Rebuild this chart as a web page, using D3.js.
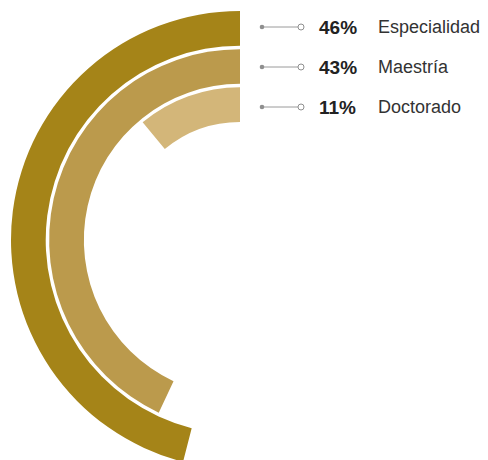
<!DOCTYPE html>
<html><head><meta charset="utf-8">
<script src="https://cdn.jsdelivr.net/npm/d3@7"></script>
<style>html,body{margin:0;padding:0;background:#fff;}svg{display:block;}</style>
</head><body>
<svg id="chart" width="488" height="460"></svg>
<script>
const categories = ["Especialidad", "Maestría", "Doctorado"];
const values = [46, 43, 11];
const colors = ["#a58418", "#bb9a4c", "#d3b679"];

const svg = d3.select("#chart");
const cx = 240, cy = 240;
const g = svg.append("g").attr("transform", `translate(${cx},${cy})`);

const outerR = 229, innerR = 118;
const angle = d3.scaleLinear().domain([0, 100]).range([0, -2 * Math.PI]);
const depth = d3.scaleBand().domain(categories).range([0, outerR - innerR]).paddingInner(0.09);

const data = categories.map((c, i) => ({cat: c, val: values[i], color: colors[i]}));

const arc = d3.arc()
  .outerRadius(d => outerR - depth(d.cat))
  .innerRadius(d => outerR - depth(d.cat) - depth.bandwidth())
  .startAngle(0)
  .endAngle(d => angle(d.val));

g.selectAll("path.bar").data(data).join("path")
  .attr("class", "bar")
  .attr("fill", d => d.color)
  .attr("d", arc);

// legend
const ly = d3.scalePoint().domain(categories).range([27, 107]);
const rows = svg.append("g").selectAll("g").data(data).join("g")
  .attr("transform", d => `translate(0,${ly(d.cat)})`);
rows.append("line").attr("x1", 262).attr("x2", 298).attr("y1", 0).attr("y2", 0)
  .attr("stroke", "#9a9a9a").attr("stroke-width", 1);
rows.append("circle").attr("cx", 262).attr("cy", 0).attr("r", 2.3).attr("fill", "#8f8f8f");
rows.append("circle").attr("cx", 301).attr("cy", 0).attr("r", 3).attr("fill", "#fff")
  .attr("stroke", "#8f8f8f").attr("stroke-width", 1);
rows.append("text").attr("x", 319).attr("y", 7)
  .attr("font-family", "Liberation Sans, Arial, sans-serif").attr("font-weight", "bold")
  .attr("font-size", 19).attr("fill", "#222")
  .text(d => d.val + "%");
rows.append("text").attr("x", 378).attr("y", 6)
  .attr("font-family", "Liberation Sans, Arial, sans-serif")
  .attr("font-size", 18).attr("fill", "#333")
  .text(d => d.cat);
</script>
</body></html>
